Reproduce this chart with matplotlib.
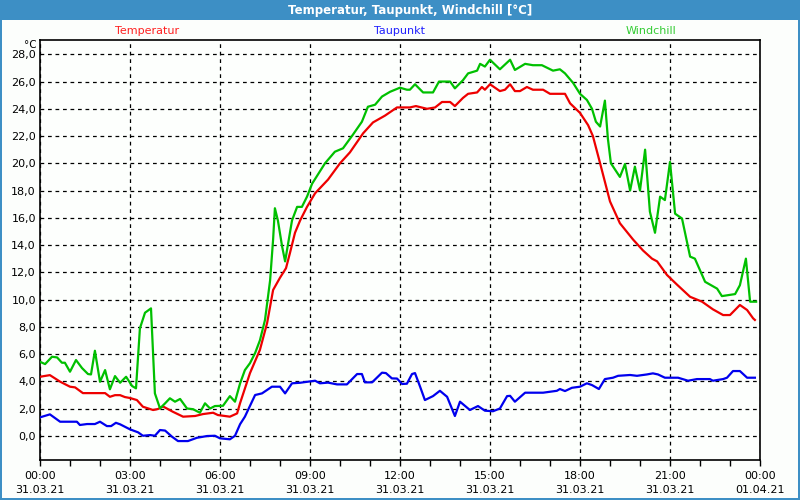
import matplotlib
matplotlib.use("Agg")
import matplotlib.pyplot as plt
from matplotlib.patches import Rectangle
from matplotlib.ticker import MultipleLocator, FuncFormatter

# hours since 31.03.21 00:00
temp_t = [0.0, 0.33, 0.67, 1.0, 1.17, 1.43, 2.17, 2.33, 2.5, 2.67, 2.83, 3.0, 3.23, 3.43,
          3.77, 3.93, 4.1, 4.43, 4.77, 5.17, 5.43, 5.77, 5.93, 6.33, 6.57, 6.67, 7.0, 7.33,
          7.57, 7.77, 8.0, 8.2, 8.33, 8.5, 8.67, 8.9, 9.17, 9.6, 10.0, 10.33, 10.77, 11.1,
          11.5, 11.9, 12.33, 12.53, 12.9, 13.17, 13.4, 13.67, 13.83, 14.1, 14.27, 14.57,
          14.73, 14.83, 15.0, 15.33, 15.5, 15.67, 15.83, 16.0, 16.23, 16.43, 16.77, 17.0,
          17.33, 17.5, 17.67, 18.0, 18.27, 18.43, 18.67, 19.0, 19.33, 19.77, 20.1, 20.4,
          20.57, 20.9, 21.23, 21.67, 22.07, 22.43, 22.77, 23.0, 23.33, 23.57, 23.77, 23.83]
temp_v = [4.33, 4.45, 3.97, 3.6, 3.55, 3.13, 3.13, 2.86, 2.98, 2.98, 2.84, 2.77, 2.62, 2.13,
          1.89, 1.96, 2.15, 1.76, 1.4, 1.45, 1.59, 1.69, 1.52, 1.4, 1.64, 2.4, 4.6, 6.3,
          8.27, 10.7, 11.6, 12.3, 13.4, 14.9, 15.8, 16.8, 17.8, 18.8, 20.0, 20.8, 22.2, 23.0,
          23.5, 24.1, 24.1, 24.2, 24.0, 24.1, 24.5, 24.5, 24.2, 24.8, 25.1, 25.2,
          25.6, 25.4, 25.8, 25.3, 25.4, 25.8, 25.3, 25.3, 25.6, 25.4, 25.4, 25.1,
          25.1, 25.1, 24.4, 23.7, 22.8, 22.0, 20.0, 17.2, 15.6, 14.4, 13.6, 13.0,
          12.8, 11.8, 11.1, 10.2, 9.84, 9.28, 8.86, 8.86, 9.6, 9.23, 8.62, 8.5]

tau_t = [0.0, 0.33, 0.67, 1.23, 1.33, 1.57, 1.83, 2.0, 2.23, 2.37, 2.53, 2.67, 3.0, 3.27,
         3.43, 3.67, 3.83, 4.0, 4.17, 4.4, 4.6, 4.93, 5.23, 5.57, 5.83, 6.0, 6.33, 6.5,
         6.67, 6.83, 7.17, 7.4, 7.73, 8.0, 8.17, 8.4, 8.67, 9.17, 9.33, 9.6, 9.9, 10.23,
         10.57, 10.73, 10.83, 11.07, 11.4, 11.53, 11.73, 11.9, 12.07, 12.23, 12.4, 12.5,
         12.67, 12.83, 13.1, 13.33, 13.57, 13.83, 14.0, 14.33, 14.6, 14.83, 15.1, 15.33,
         15.57, 15.67, 15.83, 16.17, 16.77, 17.23, 17.33, 17.5, 17.73, 18.0, 18.23, 18.4,
         18.63, 18.83, 19.1, 19.27, 19.67, 19.9, 20.23, 20.43, 20.6, 20.83, 21.27, 21.6,
         21.9, 22.33, 22.43, 22.77, 22.9, 23.1, 23.33, 23.57, 23.83]
tau_v = [1.35, 1.57, 1.03, 1.03, 0.79, 0.86, 0.86, 1.03, 0.71, 0.71, 0.95, 0.84, 0.47, 0.25,
         0.0, 0.05, 0.0, 0.42, 0.38, -0.07, -0.39, -0.39, -0.15, -0.02, 0.0, -0.19, -0.26, 0.0,
         0.85, 1.4, 2.99, 3.11, 3.6, 3.6, 3.11, 3.85, 3.89, 4.04, 3.85, 3.9, 3.77, 3.77,
         4.53, 4.53, 3.92, 3.92, 4.63, 4.6, 4.21, 4.2, 3.8, 3.82, 4.53, 4.6,
         3.6, 2.62, 2.91, 3.3, 2.86, 1.45, 2.5, 1.89, 2.18, 1.84, 1.8, 2.0,
         2.91, 2.93, 2.5, 3.16, 3.16, 3.3, 3.43, 3.28, 3.52, 3.6, 3.85, 3.72,
         3.43, 4.16, 4.26, 4.4, 4.46, 4.4, 4.5, 4.58, 4.5, 4.26, 4.26, 4.04,
         4.16, 4.16, 4.04, 4.16, 4.26, 4.75, 4.75, 4.26, 4.26]

wind_t = [0.0, 0.17, 0.4, 0.57, 0.73, 0.83, 1.0, 1.2, 1.4, 1.6, 1.7, 1.83, 2.0, 2.17, 2.33,
          2.5, 2.67, 2.87, 3.07, 3.2, 3.33, 3.5, 3.7, 3.83, 4.0, 4.17, 4.33, 4.5, 4.67, 4.9,
          5.1, 5.33, 5.5, 5.67, 5.83, 6.1, 6.33, 6.5, 6.67, 6.83, 7.0, 7.17, 7.33, 7.5, 7.67,
          7.77, 7.83, 7.93, 8.07, 8.17, 8.27, 8.4, 8.57, 8.73, 8.9, 9.07, 9.5, 9.83, 10.1,
          10.43, 10.73, 10.93, 11.17, 11.4, 11.67, 12.0, 12.23, 12.33, 12.5, 12.77, 13.1,
          13.3, 13.67, 13.83, 14.1, 14.27, 14.57, 14.67, 14.83, 15.0, 15.33, 15.67, 15.83,
          16.17, 16.43, 16.73, 17.1, 17.33, 17.5, 17.77, 18.0, 18.23, 18.4, 18.53, 18.67,
          18.83, 18.93, 19.03, 19.33, 19.5, 19.67, 19.83, 20.0, 20.17, 20.33, 20.5, 20.67,
          20.83, 21.0, 21.17, 21.4, 21.67, 21.83, 22.17, 22.57, 22.73, 23.17, 23.33, 23.53,
          23.67, 23.87]
wind_v = [5.43, 5.26, 5.8, 5.75, 5.36, 5.36, 4.7, 5.56, 4.97, 4.53, 4.5, 6.24, 3.96, 4.82, 3.41,
          4.38, 3.89, 4.33, 3.65, 3.48, 7.88, 9.03, 9.35, 3.11, 2.01, 2.38, 2.75, 2.5, 2.7, 2.0,
          1.95, 1.69, 2.38, 2.0, 2.18, 2.2, 2.91, 2.5, 3.85, 4.82, 5.33, 6.07, 7.0, 8.5, 11.4,
          14.4, 16.7, 15.8, 13.9, 12.8, 14.1, 15.8, 16.8, 16.8, 17.55, 18.5, 20.0, 20.85, 21.1,
          22.1, 23.05, 24.15, 24.3, 24.9, 25.25, 25.55, 25.4, 25.4, 25.8, 25.2, 25.2,
          26.0, 26.0, 25.5, 26.1, 26.6, 26.8, 27.3, 27.1, 27.6, 26.9, 27.6, 26.85,
          27.3, 27.2, 27.2, 26.8, 26.9, 26.6, 25.9, 25.1, 24.65, 24.0, 23.05, 22.7,
          24.6, 21.8, 20.0, 19.0, 19.95, 18.0, 19.75, 18.0, 21.0, 16.45, 14.9, 17.55,
          17.3, 20.1, 16.3, 15.95, 13.15, 13.0, 11.3, 10.8, 10.25, 10.4, 11.05, 13.0,
          9.84, 9.84]

tick_hours = [0, 3, 6, 9, 12, 15, 18, 21, 24]
tick_labels = ["00:00\n31.03.21", "03:00\n31.03.21", "06:00\n31.03.21", "09:00\n31.03.21",
               "12:00\n31.03.21", "15:00\n31.03.21", "18:00\n31.03.21", "21:00\n31.03.21",
               "00:00\n01.04.21"]

frame_blue = "#3d8fc5"
red, blue, green = "#ee0000", "#0000ee", "#00c000"

fig = plt.figure(figsize=(8, 5), dpi=100, facecolor="#fcfefc")

# title bar and window border
fig.patches.append(Rectangle((0, 0.96), 1, 0.04, transform=fig.transFigure,
                             facecolor=frame_blue, edgecolor="none", zorder=0))
for x0, y0, w, h in [(0, 0, 0.003, 1), (0.997, 0, 0.003, 1), (0, 0, 1, 0.004)]:
    fig.patches.append(Rectangle((x0, y0), w, h, transform=fig.transFigure,
                                 facecolor=frame_blue, edgecolor="none", zorder=0))
fig.text(0.513, 0.979, "Temperatur, Taupunkt, Windchill [°C]", color="white",
         fontsize=8.5, fontweight="bold", ha="center", va="center")

fig.text(0.184, 0.937, "Temperatur", color="#ff2020", fontsize=8, ha="center", va="center")
fig.text(0.5, 0.937, "Taupunkt", color="#2020ff", fontsize=8, ha="center", va="center")
fig.text(0.814, 0.937, "Windchill", color="#33cc33", fontsize=8, ha="center", va="center")

ax = fig.add_axes([0.05, 0.08, 0.9, 0.84])
ax.set_facecolor("#fdfffd")

ax.plot(tau_t, tau_v, color=blue, lw=1.6, zorder=3)
ax.plot(temp_t, temp_v, color=red, lw=1.6, zorder=4)
ax.plot(wind_t, wind_v, color=green, lw=1.6, zorder=5)

ax.set_xlim(0, 24)
ax.set_ylim(-1.78, 29.05)

ax.set_xticks(tick_hours)
ax.set_xticklabels(tick_labels, fontsize=8, linespacing=1.5)
ax.xaxis.set_minor_locator(MultipleLocator(1))
ax.tick_params(axis="x", which="major", length=4, width=1, pad=4, direction="out")
ax.tick_params(axis="x", which="minor", length=4, width=1, direction="out")

ax.yaxis.set_major_locator(MultipleLocator(2))
ax.yaxis.set_major_formatter(FuncFormatter(lambda v, p: ("%.1f" % v).replace(".", ",")))
ax.tick_params(axis="y", length=0, pad=3, labelsize=8)
ax.set_yticks([v for v in range(0, 29, 2)])

ax.grid(True, which="major", color="black", linestyle=(0, (3, 3)), linewidth=0.9)
for s in ax.spines.values():
    s.set_color("black")
    s.set_linewidth(1.2)

fig.text(0.038, 0.91, "°C", fontsize=7.5, ha="center", va="center")

fig.savefig("out.png", dpi=100, facecolor=fig.get_facecolor())
